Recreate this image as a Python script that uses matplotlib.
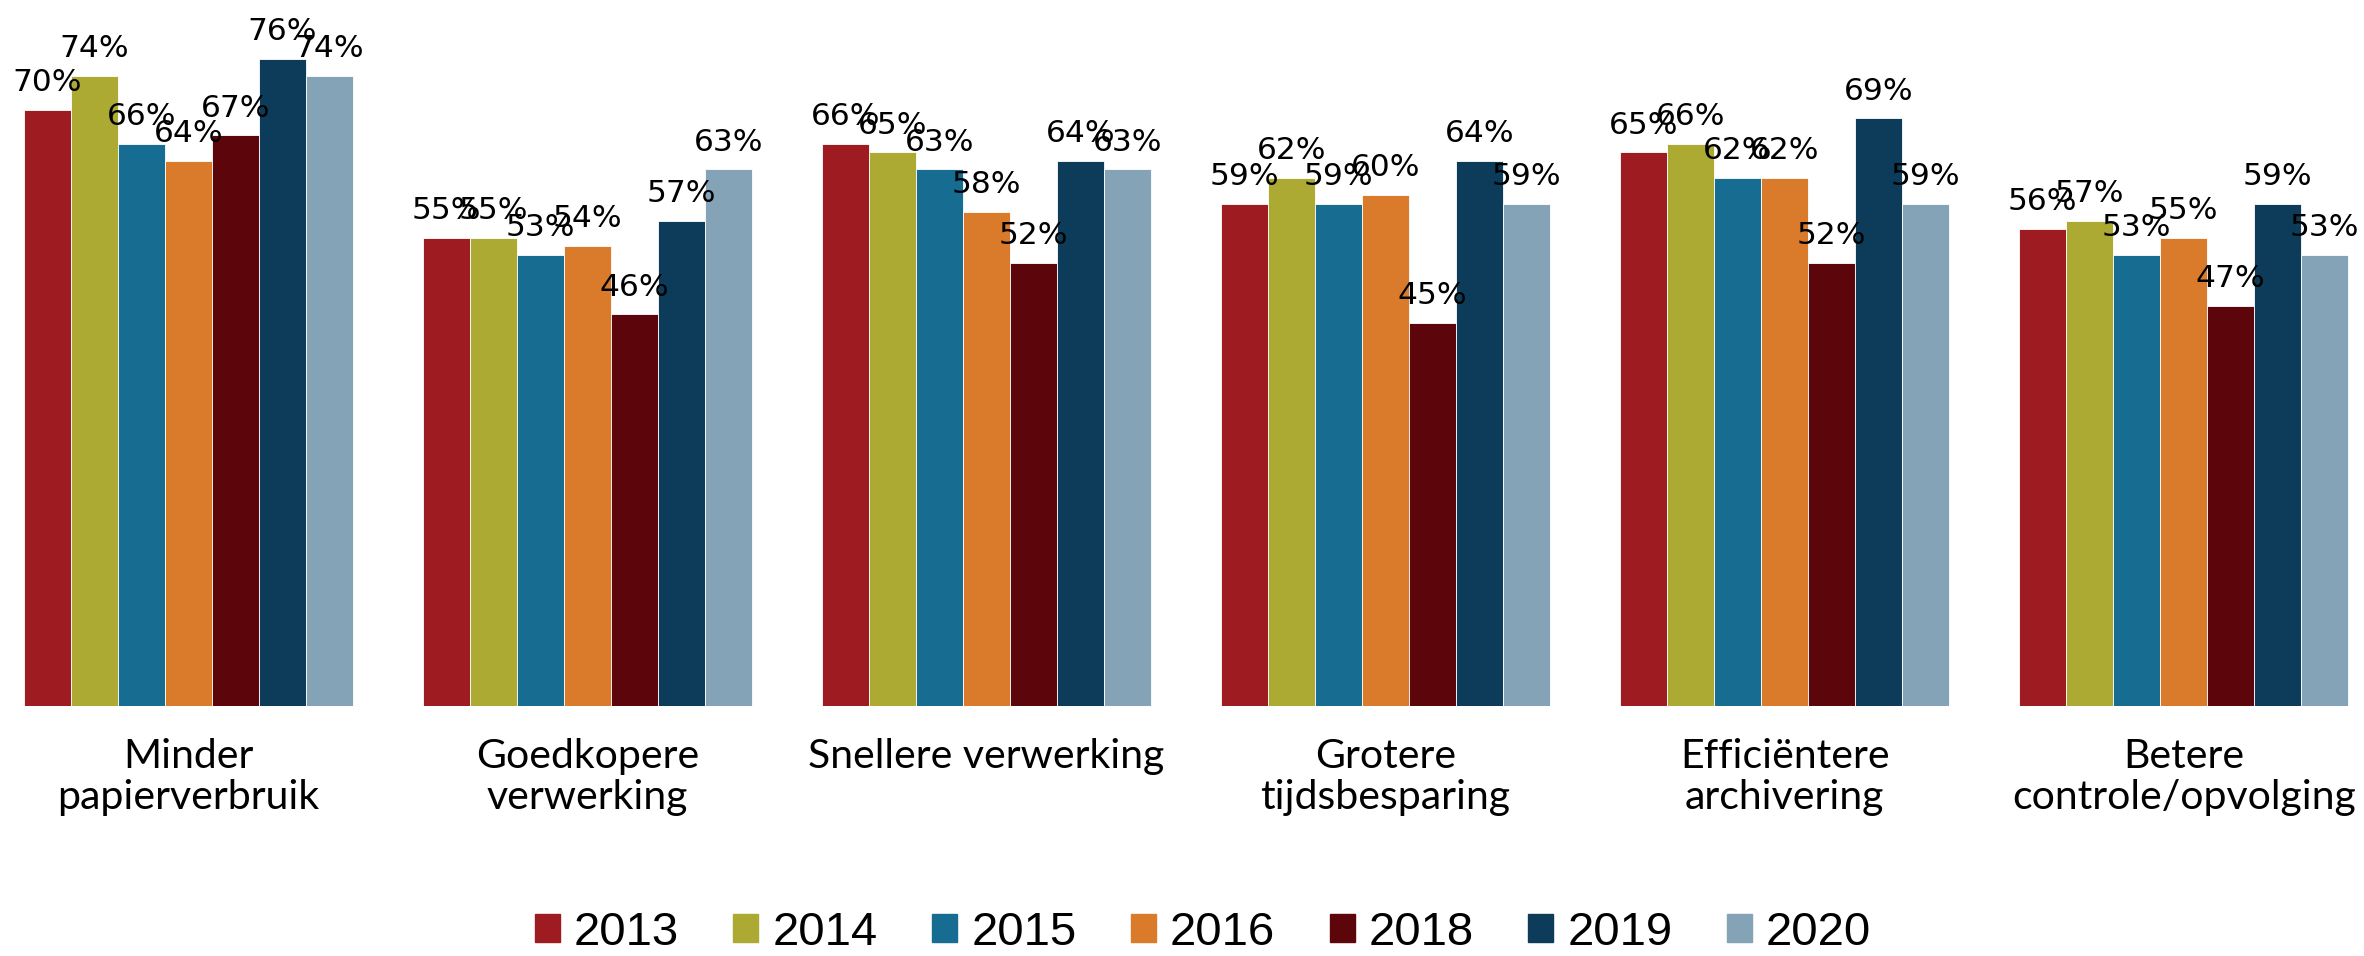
import numpy as np
import matplotlib
matplotlib.use("Agg")
import matplotlib.pyplot as plt
from matplotlib.patches import Rectangle

categories = ["Minder\npapierverbruik", "Goedkopere\nverwerking", "Snellere verwerking",
              "Grotere\ntijdsbesparing", "Efficiëntere\narchivering", "Betere\ncontrole/opvolging"]
years = ["2013", "2014", "2015", "2016", "2018", "2019", "2020"]
colors = ["#9E1B22", "#ADAA33", "#166C91", "#DA7B2C", "#5C060B", "#0C3C5A", "#84A3B7"]

v2013 = [70, 55, 66, 59, 65, 56]
v2014 = [74, 55, 65, 62, 66, 57]
v2015 = [66, 53, 63, 59, 62, 53]
v2016 = [64, 54, 58, 60, 62, 55]
v2018 = [67, 46, 52, 45, 52, 47]
v2019 = [76, 57, 64, 64, 69, 59]
v2020 = [74, 63, 63, 59, 59, 53]
series = [v2013, v2014, v2015, v2016, v2018, v2019, v2020]

W, H = 2364, 956
fig = plt.figure(figsize=(W / 100, H / 100), dpi=100)
ax = fig.add_axes([0, 250 / H, 1, 706 / H])

x = np.arange(len(categories))
width = 0.1178
for i, (vals, col) in enumerate(zip(series, colors)):
    pos = x + (i - 3) * width
    bars = ax.bar(pos, vals, width, color=col, edgecolor="white", linewidth=0.6)
    for rect, v in zip(bars, vals):
        ax.annotate(f"{v}%", xy=(rect.get_x() + rect.get_width() / 2, v),
                    xytext=(0, 13.5), textcoords="offset points",
                    ha="center", va="baseline", fontsize=22.5,
                    family="DejaVu Sans", color="black")

ax.set_xlim(-0.4724, 5.452)
ax.set_ylim(0, 82.9)
ax.set_xticks(x, labels=categories)
ax.tick_params(axis="x", length=0, pad=23, labelsize=29.5)
for lab in ax.get_xticklabels():
    lab.set_family("Lato")
    lab.set_linespacing(1.15)
ax.set_yticks([])
for s in ax.spines.values():
    s.set_visible(False)

# legend sits in the strip at the bottom
handles = [Rectangle((0, 0), 1, 1, color=c) for c in colors]
fig.legend(handles, years, loc="center", bbox_to_anchor=(1203 / W, 1 - 933 / H),
           ncol=7, frameon=False, prop={"family": "Liberation Sans", "size": 34},
           handlelength=0.53, handleheight=0.53, handletextpad=0.3,
           columnspacing=1.15, borderpad=0, borderaxespad=0)

fig.savefig("out.png", dpi=100)
